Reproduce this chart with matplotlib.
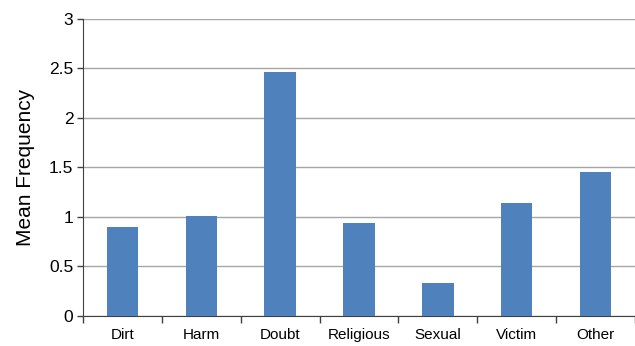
import matplotlib.pyplot as plt
import numpy as np

categories = ["Dirt", "Harm", "Doubt", "Religious", "Sexual", "Victim", "Other"]
mean_frequency = [0.90, 1.01, 2.46, 0.94, 0.33, 1.14, 1.45]
y_ticks = [0, 0.5, 1, 1.5, 2, 2.5, 3]
y_tick_labels = ["0", "0.5", "1", "1.5", "2", "2.5", "3"]

plt.rcParams["font.family"] = ["Liberation Sans", "DejaVu Sans"]

fig = plt.figure(figsize=(6.35, 3.46), dpi=100)
ax = fig.add_axes([83 / 635, 1 - 315.5 / 346, 552 / 635, (315.5 - 19) / 346])

x = np.arange(len(categories))
ax.bar(x, mean_frequency, width=0.4, color="#4F81BD", zorder=3)

ax.set_xlim(-0.5, len(categories) - 0.5)
ax.set_ylim(0, 3)
ax.set_yticks(y_ticks)
ax.set_yticklabels(y_tick_labels, fontsize=12.5)
ax.set_xticks(x)
ax.set_xticklabels(categories, fontsize=11)
ax.set_xticks(np.arange(len(categories) + 1) - 0.5, minor=True)
ax.tick_params(axis="x", which="major", length=0, pad=9)
ax.tick_params(axis="x", which="minor", length=5, width=1, color="#404040")
ax.tick_params(axis="y", length=4, width=1, color="#404040", pad=3)
ax.grid(axis="y", color="#A6A6A6", linewidth=1, zorder=0)

for side in ("top", "right"):
    ax.spines[side].set_visible(False)
ax.spines["left"].set_color("#404040")
ax.spines["bottom"].set_color("#404040")

ax.set_ylabel("Mean Frequency", fontsize=15, labelpad=10)

fig.savefig("out.png", dpi=100)
